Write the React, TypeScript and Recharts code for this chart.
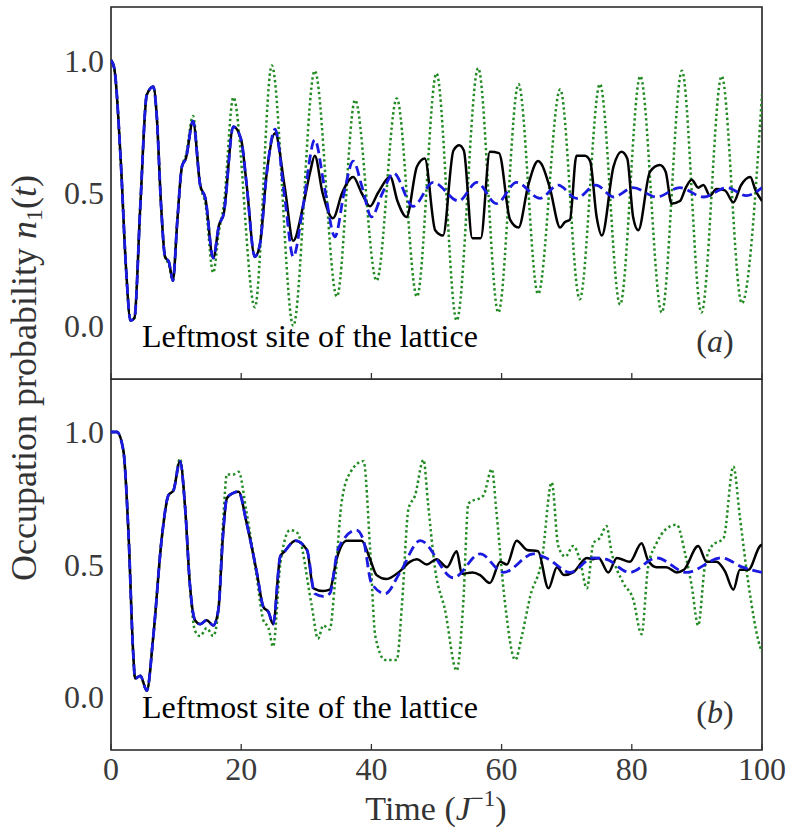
import React from 'react';
import { LineChart, Line, XAxis, YAxis, ReferenceArea } from 'recharts';

// values, [time, n1]

// panel (a): black and blue share the first part
const aEarly: [number, number][] = [
  [0, 1.0], [0.5, 0.97], [1.5, 0.62], [2.3, 0.22], [3.0, 0.02], [3.6, 0.03], [4.5, 0.45], [5.5, 0.87],
  [6.5, 0.9], [7.0, 0.8], [7.7, 0.45], [8.3, 0.26], [8.9, 0.24], [9.5, 0.17], [10.2, 0.4], [10.9, 0.6],
  [11.5, 0.63], [12.6, 0.77], [13.7, 0.53], [14.5, 0.48], [15.7, 0.255], [16.6, 0.38], [17.3, 0.42],
  [18.8, 0.75], [20.0, 0.7], [20.8, 0.54], [22.1, 0.26], [22.9, 0.31], [23.9, 0.57],
];
const aBlackTail: [number, number][] = [
  [25.2, 0.725], [26.7, 0.52], [28.0, 0.32], [29.5, 0.45], [30.6, 0.58], [31.3, 0.64], [32.5, 0.5],
  [34.1, 0.405], [35.5, 0.5], [37.2, 0.56], [38.5, 0.5], [39.8, 0.45], [41.0, 0.5], [42.9, 0.56],
  [44.0, 0.47], [45.4, 0.41], [47.0, 0.6], [48.2, 0.63], [49.8, 0.36], [51.0, 0.34], [52.6, 0.66],
  [53.5, 0.68], [54.2, 0.66], [55.5, 0.33], [56.8, 0.33], [58.2, 0.655], [59.6, 0.65], [61.3, 0.4],
  [62.6, 0.37], [64.1, 0.53], [65.6, 0.62], [66.1, 0.61], [67.4, 0.52], [69.0, 0.37], [69.7, 0.39],
  [70.5, 0.4], [71.5, 0.64], [72.8, 0.64], [73.6, 0.62], [74.6, 0.41], [75.4, 0.34], [77.2, 0.6],
  [78.4, 0.655], [79.3, 0.63], [80.2, 0.41], [81.0, 0.36], [82.8, 0.58], [84.3, 0.605], [85.2, 0.58],
  [86.1, 0.46], [87.4, 0.47], [88.3, 0.52], [89.2, 0.55], [90.2, 0.52], [91.0, 0.53], [92.0, 0.49],
  [93.0, 0.515], [94.3, 0.51], [95.6, 0.465], [96.8, 0.53], [98.2, 0.56], [99.0, 0.51], [100, 0.47],
];
const aBlueTail: [number, number][] = [
  [25.2, 0.74], [26.7, 0.48], [28.0, 0.26], [29.5, 0.45], [31.3, 0.7], [32.8, 0.52], [34.4, 0.335],
  [35.8, 0.5], [37.2, 0.62], [38.6, 0.52], [40.0, 0.41], [41.7, 0.5], [43.4, 0.575], [46.4, 0.45],
  [49.5, 0.54], [53.4, 0.47], [56.2, 0.54], [59.2, 0.46], [62.3, 0.54], [65.9, 0.48], [68.7, 0.53],
  [71.5, 0.48], [74.5, 0.53], [77.2, 0.485], [80.2, 0.52], [83.8, 0.485], [87.4, 0.52], [91.0, 0.485],
  [94.6, 0.52], [97.6, 0.49], [100, 0.52],
];
const aGreen: [number, number][] = [
  [0, 1.0], [0.5, 0.97], [1.5, 0.62], [2.3, 0.22], [3.0, 0.02], [3.6, 0.03], [4.5, 0.45], [5.5, 0.87],
  [6.5, 0.9], [7.0, 0.8], [7.7, 0.45], [8.3, 0.26], [8.9, 0.23], [9.5, 0.17], [10.2, 0.4], [10.9, 0.6],
  [11.5, 0.64], [12.6, 0.79], [13.7, 0.53], [14.5, 0.46], [15.7, 0.2], [16.6, 0.36], [17.3, 0.45],
  [18.8, 0.86], [22.1, 0.07], [24.7, 0.98], [28.0, 0.0], [31.3, 0.96], [34.7, 0.11], [37.5, 0.85],
  [40.8, 0.17], [43.9, 0.856], [47.0, 0.11], [50.0, 0.95], [53.1, 0.02], [56.4, 0.97], [59.5, 0.05],
  [62.6, 0.91], [65.6, 0.12], [69.0, 0.89], [72.0, 0.1], [75.1, 0.91], [78.2, 0.08], [81.3, 0.94],
  [84.6, 0.05], [87.7, 0.96], [90.7, 0.05], [93.8, 0.94], [96.9, 0.085], [100, 0.87],
];

// panel (b)
const bEarly: [number, number][] = [
  [0, 1.0], [0.9, 1.0], [1.9, 0.93], [2.7, 0.61], [3.4, 0.17], [3.7, 0.07], [4.5, 0.08], [5.5, 0.024],
  [6.5, 0.23], [7.8, 0.6], [8.8, 0.76], [9.6, 0.78], [10.6, 0.89], [11.4, 0.71], [12.1, 0.43],
  [12.9, 0.29], [13.7, 0.275], [14.7, 0.29], [15.7, 0.27], [16.5, 0.33], [17.2, 0.61], [17.8, 0.75],
  [18.8, 0.77], [19.6, 0.775], [20.8, 0.66], [22.4, 0.47], [23.4, 0.34], [24.2, 0.32], [24.9, 0.275],
  [26.0, 0.53], [26.7, 0.55], [28.3, 0.59], [30.1, 0.555],
];
const bBlackTail: [number, number][] = [
  [31.1, 0.41], [32.6, 0.4], [33.6, 0.405], [34.7, 0.525], [36.2, 0.59], [38.5, 0.59], [39.8, 0.52],
  [40.8, 0.46], [42.3, 0.445], [44.4, 0.475], [45.9, 0.51], [47.0, 0.52], [48.5, 0.5], [50.0, 0.52],
  [51.6, 0.49], [53.1, 0.55], [53.9, 0.465], [55.5, 0.47], [56.7, 0.46], [58.2, 0.43], [59.8, 0.51],
  [60.8, 0.5], [62.3, 0.59], [63.9, 0.555], [65.6, 0.55], [67.2, 0.41], [68.5, 0.49], [69.6, 0.46],
  [71.0, 0.47], [73.1, 0.525], [74.0, 0.52], [74.9, 0.525], [76.4, 0.47], [77.7, 0.525], [79.7, 0.51],
  [81.5, 0.58], [82.5, 0.515], [83.8, 0.49], [85.3, 0.49], [86.9, 0.47], [88.0, 0.48], [90.2, 0.57],
  [91.5, 0.51], [93.0, 0.51], [94.3, 0.475], [95.6, 0.405], [96.6, 0.48], [97.9, 0.48], [99.7, 0.57],
  [100, 0.575],
];
const bBlueTail: [number, number][] = [
  [31.3, 0.39], [32.6, 0.38], [33.6, 0.39], [34.9, 0.56], [37.7, 0.63], [38.8, 0.59], [40.0, 0.43],
  [42.1, 0.39], [44.4, 0.47], [47.5, 0.59], [52.6, 0.45], [56.7, 0.54], [60.3, 0.47], [64.9, 0.54],
  [67.2, 0.52], [70.5, 0.47], [74.1, 0.525], [76.0, 0.52], [79.7, 0.47], [83.8, 0.525], [88.4, 0.47],
  [93.8, 0.525], [97.0, 0.49], [100, 0.47],
];
const bGreen: [number, number][] = [
  [0, 1.0], [0.9, 1.0], [1.9, 0.93], [2.7, 0.61], [3.4, 0.17], [3.7, 0.07], [4.5, 0.08], [5.5, 0.024],
  [6.5, 0.23], [7.8, 0.6], [8.8, 0.76], [9.6, 0.78], [10.6, 0.9], [11.4, 0.71], [12.1, 0.43],
  [12.9, 0.25], [13.7, 0.23], [14.7, 0.26], [15.7, 0.23], [16.5, 0.33], [17.2, 0.65], [17.8, 0.84],
  [18.8, 0.84], [19.6, 0.85], [20.8, 0.7], [22.4, 0.45], [23.4, 0.29], [24.2, 0.26], [24.9, 0.19],
  [26.0, 0.5], [27.5, 0.63], [28.6, 0.62], [30.8, 0.35], [31.8, 0.22], [32.6, 0.27], [33.6, 0.255],
  [34.4, 0.43], [35.4, 0.73], [36.7, 0.845], [38.8, 0.89], [39.8, 0.56], [40.6, 0.23], [42.1, 0.14],
  [43.9, 0.14], [44.7, 0.35], [45.7, 0.71], [46.7, 0.76], [48.0, 0.895], [48.7, 0.73], [49.8, 0.48],
  [51.3, 0.33], [53.1, 0.1], [54.1, 0.35], [54.9, 0.73], [57.2, 0.76], [58.5, 0.86], [59.2, 0.7],
  [60.5, 0.36], [62.1, 0.14], [63.1, 0.23], [64.4, 0.38], [66.2, 0.52], [67.7, 0.81], [68.7, 0.57],
  [69.8, 0.53], [71.0, 0.57], [72.0, 0.52], [73.1, 0.41], [74.1, 0.58], [75.1, 0.6], [76.1, 0.645],
  [76.9, 0.545], [78.7, 0.43], [80.2, 0.37], [81.5, 0.237], [82.5, 0.49], [83.8, 0.58], [85.1, 0.63],
  [86.9, 0.65], [88.2, 0.54], [89.2, 0.42], [90.2, 0.27], [91.2, 0.49], [92.3, 0.57], [94.1, 0.6],
  [95.6, 0.87], [96.6, 0.68], [97.9, 0.43], [99.7, 0.19], [100, 0.17],
];

const xTicks = [0, 20, 40, 60, 80, 100];
const yTicks = [0, 0.5, 1.0];

const SERIF = "'Liberation Serif', 'Times New Roman', serif";
const toRows = (pts: [number, number][]) => pts.map(([t, v]) => ({ t, v }));

const XTick = (props: any) => {
  const { x, y, payload, showLabel } = props;
  return (
    <g>
      <line x1={x} x2={x} y1={y} y2={y - 6} stroke="#333" strokeWidth={1.3} />
      {showLabel && (
        <text x={x} y={y + 30} textAnchor="middle" fontSize={32} fontFamily={SERIF} fill="#3a3a3a">
          {payload.value}
        </text>
      )}
    </g>
  );
};

type PanelProps = {
  top: number;
  height: number;
  marginTop: number;
  xAxisHeight: number;
  black: [number, number][];
  blue: [number, number][];
  green: [number, number][];
  showXLabels: boolean;
};

const Panel = ({ top, height, marginTop, xAxisHeight, black, blue, green, showXLabels }: PanelProps) => (
  <div style={{ position: 'absolute', left: 0, top }}>
    <LineChart width={788} height={height} margin={{ top: marginTop, right: 26, left: 0, bottom: 0 }}>
      <XAxis
        type="number"
        dataKey="t"
        domain={[0, 100]}
        ticks={xTicks}
        interval={0}
        allowDataOverflow
        axisLine={false}
        tickLine={false}
        tickSize={0}
        tickMargin={0}
        height={xAxisHeight}
        tick={(p: any) => <XTick {...p} showLabel={showXLabels} />}
      />
      <YAxis
        type="number"
        domain={[-0.2, 1.2]}
        ticks={yTicks}
        allowDataOverflow
        width={111}
        axisLine={false}
        tickLine={false}
        tickSize={0}
        tickMargin={7}
        tickFormatter={(v: number) => v.toFixed(1)}
        tick={{ fontSize: 32, fill: '#3a3a3a', fontFamily: SERIF }}
      />
      <Line data={toRows(green)} dataKey="v" type="monotone" stroke="#228a22" strokeWidth={2.5}
        strokeDasharray="2.4 2.8" dot={false} activeDot={false} isAnimationActive={false} />
      <Line data={toRows(black)} dataKey="v" type="monotone" stroke="#000" strokeWidth={2.5}
        dot={false} activeDot={false} isAnimationActive={false} />
      <Line data={toRows(blue)} dataKey="v" type="monotone" stroke="#1a1ae0" strokeWidth={2.8}
        strokeDasharray="10 5" dot={false} activeDot={false} isAnimationActive={false} />
      <ReferenceArea x1={0} x2={100} y1={-0.2} y2={1.2} fill="none" stroke="#222" strokeWidth={1.6} />
    </LineChart>
  </div>
);

export default function App() {
  return (
    <div style={{ position: 'absolute', left: 0, top: 0, width: 788, height: 833, background: '#fff' }}>
      <Panel top={0} height={390} marginTop={7} xAxisHeight={11}
        black={[...aEarly, ...aBlackTail]} blue={[...aEarly, ...aBlueTail]} green={aGreen} showXLabels={false} />
      <Panel top={379} height={454} marginTop={0} xAxisHeight={83}
        black={[...bEarly, ...bBlackTail]} blue={[...bEarly, ...bBlueTail]} green={bGreen} showXLabels />
      <svg width={788} height={833} style={{ position: 'absolute', left: 0, top: 0, pointerEvents: 'none' }}
        fontFamily={SERIF}>
        <text transform="translate(36,378) rotate(-90)" textAnchor="middle" fontSize={36} fill="#333">
          Occupation probability <tspan fontStyle="italic">n</tspan>
          <tspan fontSize={24} dy={6}>1</tspan>
          <tspan dy={-6}>(</tspan><tspan fontStyle="italic">t</tspan>)
        </text>
        <text x={436} y={820} textAnchor="middle" fontSize={34} fill="#333">
          Time (<tspan fontStyle="italic">J</tspan>
          <tspan fontSize={23} dy={-14}>−1</tspan>
          <tspan dy={14}>)</tspan>
        </text>
        <text x={142} y={347} fontSize={32} fill="#000">Leftmost site of the lattice</text>
        <text x={142} y={718} fontSize={32} fill="#000">Leftmost site of the lattice</text>
        <text x={715} y={352} textAnchor="middle" fontSize={32} fill="#333">
          (<tspan fontStyle="italic">a</tspan>)
        </text>
        <text x={715} y={723} textAnchor="middle" fontSize={32} fill="#333">
          (<tspan fontStyle="italic">b</tspan>)
        </text>
      </svg>
    </div>
  );
}
